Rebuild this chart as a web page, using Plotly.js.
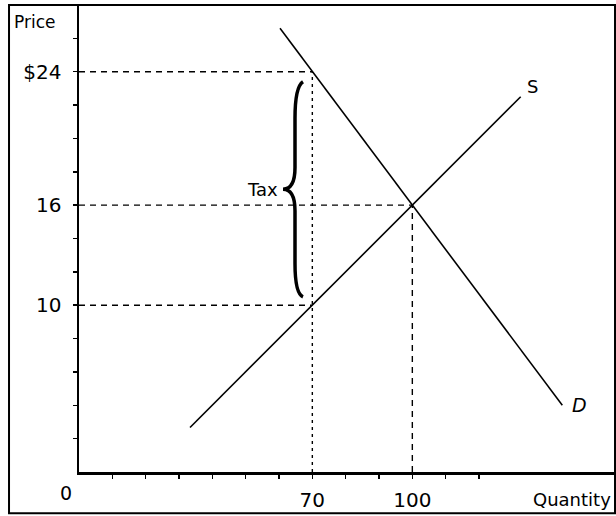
<!DOCTYPE html>
<html>
<head>
<meta charset="utf-8">
<script src="https://cdn.plot.ly/plotly-3.0.1.min.js"></script>
<style>html,body{margin:0;padding:0;background:#fff;}#chart{width:616px;height:516px;}</style>
</head>
<body>
<div id="chart"></div>
<script>
// ---- data ----
const supplyQ = [33.3, 132.5];
const supplyP = [2.67, 22.5];
const demandQ = [60.3, 145];
const demandP = [26.6, 4];
const qBuyers = 70;      // quantity with tax
const qEq = 100;         // equilibrium quantity
const pBuyers = 24;      // price paid by buyers
const pEq = 16;          // equilibrium price
const pSellers = 10;     // price received by sellers
const xTickVals = [10,20,30,40,50,60,70,80,90,100,110,120];
const xTickText = ['','','','','','','70','','','100','',''];
const yTickVals = [2,4,6,8,10,12,14,16,18,20,22,24,26];
const yTickText = ['','','','','10','','','16','','','','$24',''];

const black = '#000';
const dashStyle = '6px,5px';
const font = 'DejaVu Sans, Verdana, sans-serif';

const traces = [
  {x: supplyQ, y: supplyP, mode: 'lines', line: {color: black, width: 1.6}, hoverinfo: 'skip'},
  {x: demandQ, y: demandP, mode: 'lines', line: {color: black, width: 1.6}, hoverinfo: 'skip'},
  // dashed guides
  {x: [0, qBuyers], y: [pBuyers, pBuyers], mode: 'lines', line: {color: black, width: 1.4, dash: dashStyle}, hoverinfo: 'skip'},
  {x: [0, qEq], y: [pEq, pEq], mode: 'lines', line: {color: black, width: 1.4, dash: dashStyle}, hoverinfo: 'skip'},
  {x: [0, qBuyers], y: [pSellers, pSellers], mode: 'lines', line: {color: black, width: 1.4, dash: dashStyle}, hoverinfo: 'skip'},
  {x: [qBuyers, qBuyers], y: [0, pBuyers], mode: 'lines', line: {color: black, width: 1.4, dash: '3px,4px'}, hoverinfo: 'skip'},
  {x: [qEq, qEq], y: [0, pEq], mode: 'lines', line: {color: black, width: 1.4, dash: dashStyle}, hoverinfo: 'skip'}
];

// curly brace spanning the tax wedge (decoration)
const bTop = pBuyers - 0.6, bBot = pSellers + 0.5, bMid = (bTop + bBot) / 2;
const bEnd = qBuyers - 2.8, bBody = qBuyers - 5.2, bTip = qBuyers - 8.8;
const bracePath =
  `M ${bEnd},${bTop} Q ${bBody},${bTop - 0.3} ${bBody},${bTop - 2.2} ` +
  `L ${bBody},${bMid + 1.3} Q ${bBody},${bMid} ${bTip},${bMid} ` +
  `Q ${bBody},${bMid} ${bBody},${bMid - 1.3} ` +
  `L ${bBody},${bBot + 2.0} Q ${bBody},${bBot + 0.2} ${bEnd},${bBot}`;

const layout = {
  width: 616, height: 516,
  margin: {l: 79, r: 2, t: 5, b: 44.3},
  paper_bgcolor: '#fff', plot_bgcolor: '#fff',
  showlegend: false,
  font: {family: font, color: black, size: 20},
  xaxis: {
    range: [0, 160.5], showgrid: false, zeroline: false,
    showline: true, linecolor: black, linewidth: 2.5,
    ticks: 'outside', ticklen: 4, tickwidth: 1.5, tickcolor: black,
    tickvals: xTickVals, ticktext: xTickText,
    tickfont: {family: font, size: 20, color: black},
    ticklabelstandoff: 4, fixedrange: true
  },
  yaxis: {
    range: [0, 28], showgrid: false, zeroline: false,
    showline: true, linecolor: black, linewidth: 2.5,
    ticks: 'outside', ticklen: 4, tickwidth: 1.5, tickcolor: black,
    tickvals: yTickVals, ticktext: yTickText,
    tickfont: {family: font, size: 20, color: black},
    ticklabelstandoff: 7, fixedrange: true
  },
  shapes: [
    {type: 'rect', xref: 'paper', yref: 'paper', x0: -0.1308, x1: 1.0019, y0: -0.0885, y1: 1.0,
     line: {color: black, width: 2}, fillcolor: 'rgba(0,0,0,0)', layer: 'above'},
    {type: 'path', xref: 'x', yref: 'y', path: bracePath, line: {color: black, width: 3.5}}
  ],
  annotations: [
    {xref: 'paper', yref: 'paper', x: -0.125, y: 0.99, xanchor: 'left', yanchor: 'top',
     text: 'Price', showarrow: false, font: {family: font, size: 17, color: black}},
    {xref: 'paper', yref: 'paper', x: 0.9985, y: -0.033, xanchor: 'right', yanchor: 'top',
     text: 'Quantity', showarrow: false, font: {family: font, size: 18, color: black}},
    {xref: 'paper', yref: 'paper', x: -0.0243, y: -0.018, xanchor: 'center', yanchor: 'top',
     text: '0', showarrow: false, font: {family: font, size: 19, color: black}},
    {xref: 'x', yref: 'y', x: bTip - 1, y: bMid, xanchor: 'right', yanchor: 'middle',
     text: 'Tax', showarrow: false, font: {family: font, size: 18, color: black}},
    {xref: 'x', yref: 'y', x: supplyQ[1] + 1.2, y: supplyP[1] + 0.6, xanchor: 'left', yanchor: 'middle',
     text: 'S', showarrow: false, font: {family: font, size: 18, color: black}},
    {xref: 'x', yref: 'y', x: demandQ[1] + 2.2, y: demandP[1], xanchor: 'left', yanchor: 'middle',
     text: '<i>D</i>', showarrow: false, font: {family: font, size: 19, color: black}}
  ]
};

Plotly.newPlot('chart', traces, layout, {displayModeBar: false, staticPlot: true});
</script>
</body>
</html>
